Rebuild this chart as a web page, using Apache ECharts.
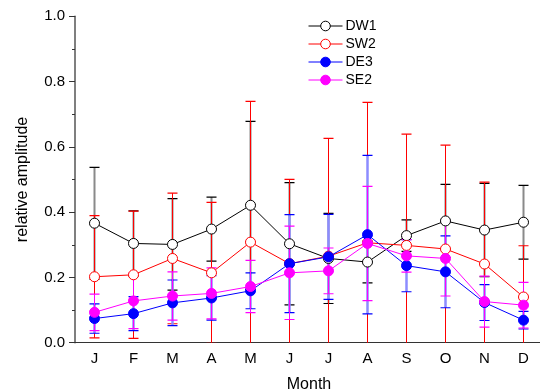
<!DOCTYPE html>
<html><head><meta charset="utf-8">
<script src="https://cdn.jsdelivr.net/npm/echarts@6/dist/echarts.min.js"></script>
<style>html,body{margin:0;padding:0;background:#fff}#c{width:540px;height:391px}</style>
</head><body><div id="c"></div>
<script>
const months = ['J','F','M','A','M','J','J','A','S','O','N','D'];
const yTicks = [0.0, 0.2, 0.4, 0.6, 0.8, 1.0];
const DW1 = [0.366,0.304,0.301,0.348,0.421,0.303,0.258,0.247,0.328,0.373,0.345,0.369];
const DW1err = [0.171,0.100,0.140,0.098,0.257,0.187,0.138,0.064,0.048,0.112,0.143,0.113];
const SW2 = [0.202,0.208,0.258,0.214,0.308,0.242,0.265,0.306,0.298,0.287,0.241,0.140];
const SW2err = [0.187,0.195,0.200,0.216,0.431,0.258,0.361,0.430,0.341,0.318,0.251,0.157];
const DE3 = [0.074,0.089,0.122,0.137,0.159,0.242,0.263,0.331,0.236,0.217,0.123,0.069];
const DE3err = [0.045,0.052,0.070,0.068,0.055,0.150,0.130,0.243,0.080,0.110,0.055,0.027];
const SE2 = [0.093,0.128,0.143,0.151,0.172,0.214,0.220,0.304,0.266,0.258,0.126,0.115];
const SE2err = [0.056,0.085,0.074,0.078,0.080,0.143,0.070,0.175,0.050,0.115,0.078,0.070];

const FONT = '"Liberation Sans", Arial, sans-serif';

function errSeries(name, vals, errs, stemColor, stemWidth, capColor) {
  return {
    type: 'custom', name: name + '_err', z: 1, clip: true,
    data: vals.map((v, i) => [i, v, errs[i]]),
    renderItem: function (params, api) {
      const x = api.value(0), y = api.value(1), e = api.value(2);
      const top = api.coord([x, y + e]);
      const bot = api.coord([x, y - e]);
      const hw = 5;
      return {
        type: 'group',
        children: [
          {type: 'line', shape: {x1: top[0], y1: top[1], x2: bot[0], y2: bot[1]},
           style: {stroke: stemColor, lineWidth: stemWidth}},
          {type: 'line', shape: {x1: top[0]-hw, y1: top[1], x2: top[0]+hw, y2: top[1]},
           style: {stroke: capColor, lineWidth: 1.2}},
          {type: 'line', shape: {x1: bot[0]-hw, y1: bot[1], x2: bot[0]+hw, y2: bot[1]},
           style: {stroke: capColor, lineWidth: 1.2}}
        ]
      };
    }
  };
}

function lineSeries(name, vals, color, filled, z) {
  return {
    type: 'line', name: name, data: vals, z: z,
    symbol: 'circle', symbolSize: 10, showSymbol: true,
    lineStyle: {color: color, width: 1},
    itemStyle: {color: filled ? color : '#fff', borderColor: color, borderWidth: 1},
    emphasis: {disabled: true}
  };
}

const chart = echarts.init(document.getElementById('c'));
chart.setOption({
  animation: false,
  backgroundColor: '#fff',
  textStyle: {fontFamily: FONT},
  grid: {left: 75, top: 16.2, width: 468, bottom: 48.3, containLabel: false, outerBoundsMode: 'none'},
  legend: {
    data: ['DW1','SW2','DE3','SE2'],
    orient: 'vertical', left: 308, top: 19, padding: 0,
    itemWidth: 34, itemHeight: 12, itemGap: 4,
    lineStyle: {width: 1},
    itemStyle: {borderWidth: 1},
    textStyle: {fontFamily: FONT, fontSize: 14, color: '#000', padding: [0,0,0,-2]}
  },
  xAxis: {
    type: 'category', data: months, boundaryGap: true,
    name: 'Month', nameLocation: 'middle', nameGap: 34,
    nameTextStyle: {fontFamily: FONT, fontSize: 16, color: '#000'},
    axisLine: {lineStyle: {color: '#333', width: 1}},
    axisTick: {alignWithLabel: true, length: 5, lineStyle: {color: '#333'}},
    axisLabel: {fontFamily: FONT, fontSize: 15, color: '#000', margin: 9},
    splitLine: {show: false}
  },
  yAxis: {
    type: 'value', min: yTicks[0], max: yTicks[yTicks.length-1], interval: 0.2,
    name: 'relative amplitude', nameLocation: 'middle', nameGap: 44,
    nameTextStyle: {fontFamily: FONT, fontSize: 16, color: '#000'},
    axisLine: {show: true, lineStyle: {color: '#555', width: 1.5}},
    axisTick: {show: true, length: 6, lineStyle: {color: '#333'}},
    minorTick: {show: true, splitNumber: 2, length: 3, lineStyle: {color: '#333'}},
    axisLabel: {fontFamily: FONT, fontSize: 15, color: '#000', margin: 10,
      formatter: v => v.toFixed(1)},
    splitLine: {show: false}
  },
  series: [
    errSeries('DW1', DW1, DW1err, '#8a8a8a', 2, '#000'),
    errSeries('SW2', SW2, SW2err, '#ff0000', 1, '#ff0000'),
    errSeries('DE3', DE3, DE3err, '#8c8cff', 2.5, '#0000ff'),
    errSeries('SE2', SE2, SE2err, '#ff00ff', 1, '#ff00ff'),
    lineSeries('DW1', DW1, '#000000', false, 3),
    lineSeries('SW2', SW2, '#ff0000', false, 4),
    lineSeries('DE3', DE3, '#0000ff', true, 5),
    lineSeries('SE2', SE2, '#ff00ff', true, 6)
  ]
});
</script></body></html>
